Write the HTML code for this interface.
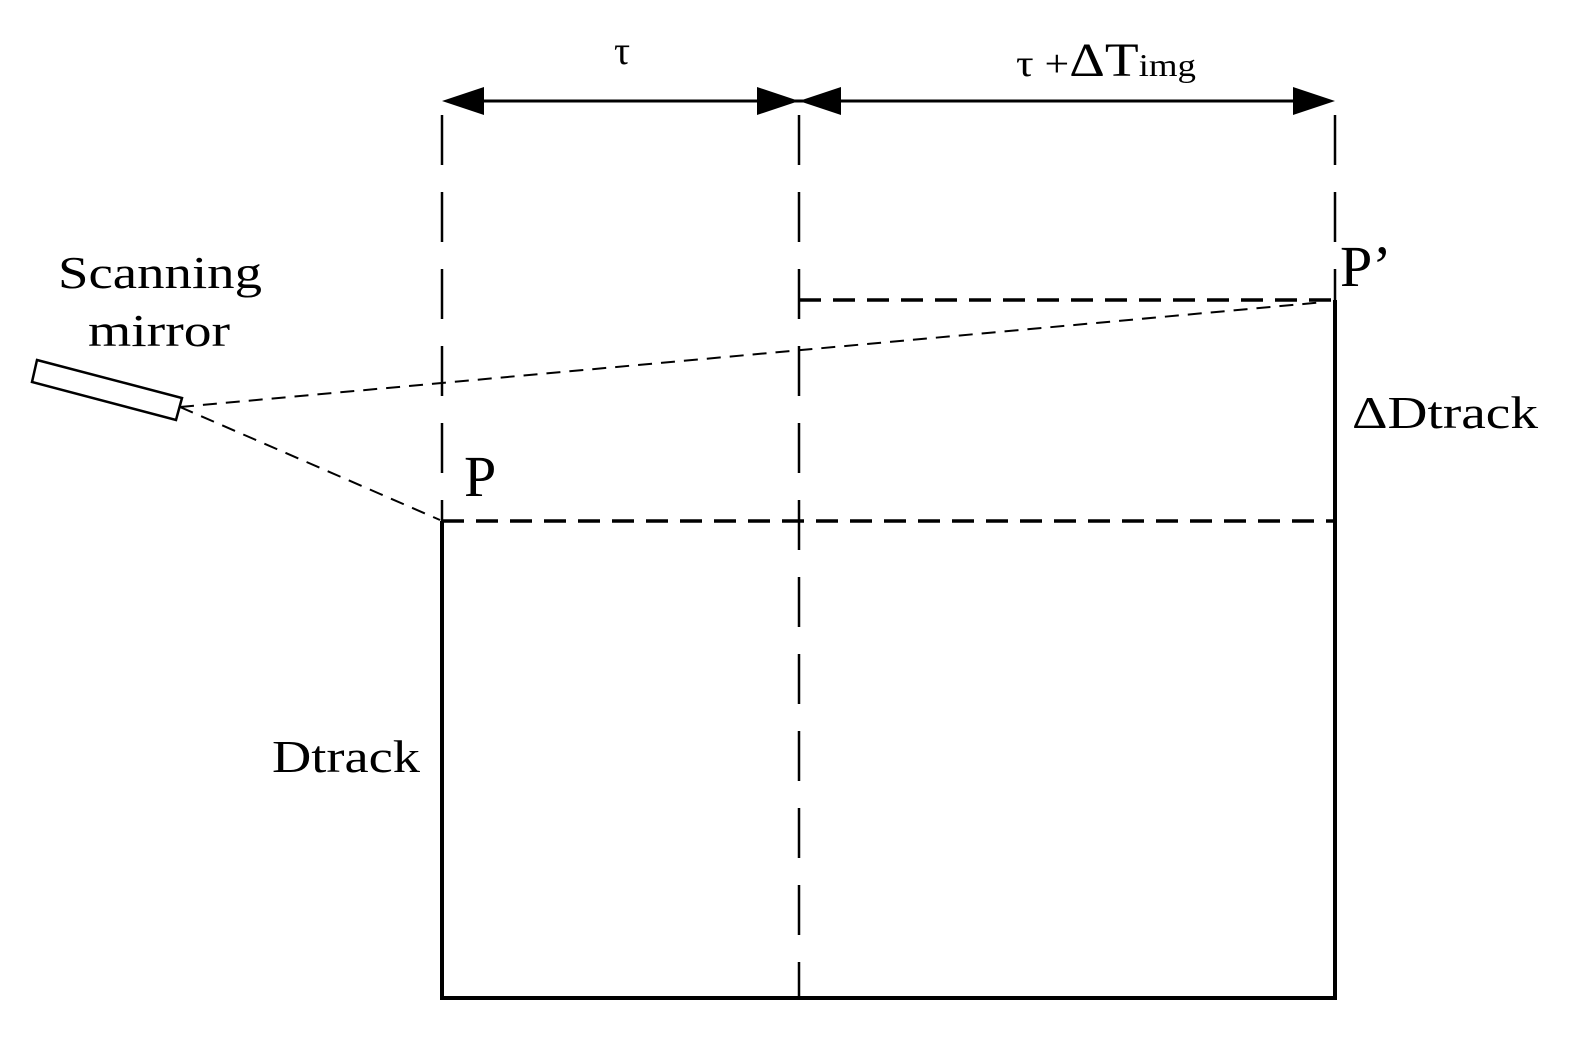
<!DOCTYPE html>
<html><head><style>body{margin:0;background:#fff}</style></head><body>
<svg width="1571" height="1032" xmlns="http://www.w3.org/2000/svg" font-family="Liberation Serif, serif">
<g stroke="#000" fill="none">
<g stroke-width="2.5" stroke-dasharray="50,27">
<line x1="442" y1="115" x2="442" y2="521"/>
<line x1="799" y1="115" x2="799" y2="998"/>
<line x1="1335" y1="115" x2="1335" y2="300"/>
</g>
<g stroke-width="3.5" stroke-dasharray="22,12">
<line x1="799" y1="300" x2="1335" y2="300"/>
<line x1="442" y1="521" x2="1335" y2="521"/>
</g>
<g stroke-width="2" stroke-dasharray="14,9">
<line x1="180" y1="407" x2="1325" y2="302"/>
<line x1="180" y1="407" x2="440" y2="520"/>
</g>
<g stroke-width="4">
<line x1="442" y1="521" x2="442" y2="1000"/>
<line x1="1335" y1="300" x2="1335" y2="1000"/>
<line x1="440" y1="998" x2="1337" y2="998"/>
</g>
<line x1="460" y1="101" x2="1315" y2="101" stroke-width="3"/>
<polygon points="37,360 182,398 176,420 32,382" stroke-width="2.5"/>
</g>
<g fill="#000">
<polygon points="442,101 484,87 484,115"/>
<polygon points="799,101 757,87 757,115"/>
<polygon points="799,101 841,87 841,115"/>
<polygon points="1335,101 1293,87 1293,115"/>
</g>
<g font-size="46" fill="#000">
<text x="58" y="288" textLength="204" lengthAdjust="spacingAndGlyphs">Scanning</text>
<text x="88" y="346" textLength="142" lengthAdjust="spacingAndGlyphs">mirror</text>
<text x="464" y="496" font-size="58">P</text>
<text x="1340" y="286" font-size="58">P’</text>
<text x="1352" y="428" textLength="186" lengthAdjust="spacingAndGlyphs">ΔDtrack</text>
<text x="272" y="772" textLength="148" lengthAdjust="spacingAndGlyphs">Dtrack</text>
<text x="614" y="64" font-size="40">τ</text>
<text x="1016" y="76" font-size="38" textLength="180" lengthAdjust="spacingAndGlyphs">τ +<tspan font-size="48">ΔT</tspan><tspan font-size="32">img</tspan></text>
</g>
</svg>
</body></html>
